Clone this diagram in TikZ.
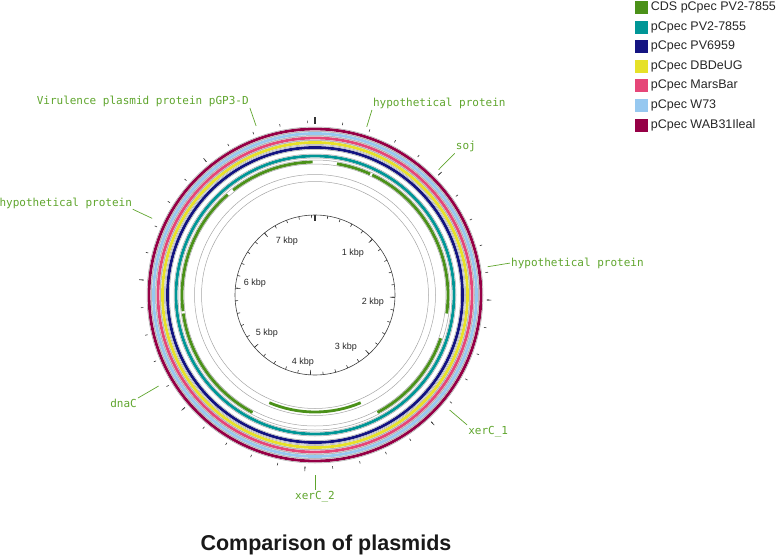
\documentclass[tikz,border=0pt]{standalone}
\usepackage{fontspec}
\setmainfont{Liberation Sans}
\newfontfamily\genefont{DejaVu Sans Mono}
\usetikzlibrary{positioning}

\definecolor{cdsgreen}{RGB}{75,145,25}
\definecolor{labelgreen}{RGB}{95,165,45}
\definecolor{pvteal}{RGB}{0,150,150}
\definecolor{pvnavy}{RGB}{20,20,130}
\definecolor{dbyellow}{RGB}{230,225,40}
\definecolor{mbpink}{RGB}{230,70,120}
\definecolor{wlblue}{RGB}{150,200,240}
\definecolor{wabred}{RGB}{150,0,70}

\tikzset{
  ringedge/.style={draw=gray!70, line width=0.5pt},
  tickmark/.style={draw=black!80, line width=0.6pt},
  geneline/.style={draw=labelgreen, line width=0.7pt},
  genelbl/.style={text=labelgreen, font=\genefont\fontsize{11}{13}\selectfont, inner sep=1pt},
  kbplbl/.style={text=black!85, font=\fontsize{9}{11}\selectfont, inner sep=0pt},
  keybox/.style={minimum size=13pt, inner sep=0pt},
  keytext/.style={text=black!85, font=\fontsize{12.5}{14}\selectfont, inner sep=0pt, anchor=west},
}

\begin{document}
\begin{tikzpicture}[x=1pt, y=-1pt]
\useasboundingbox (0,0) rectangle (777,557);

\begin{scope}[shift={(315,295)}]
% blast rings, outside in
\foreach \r/\c in {166/wabred, 161.5/wlblue, 157/mbpink, 152.5/dbyellow, 147.5/pvnavy, 139/pvteal}{
  \draw[\c, line width=2.8pt] (0,0) circle (\r);
  \draw[ringedge] (0,0) circle ({\r+2}) (0,0) circle ({\r-2});
}
% CDS, both strands
\draw[ringedge] (0,0) circle (135) (0,0) circle (131);
\draw[ringedge] (0,0) circle (120.5) (0,0) circle (113.5);
\foreach \s/\e in {322/359, 9.5/24.5, 25.5/62, 62/98, 109/152, 208/262, 263/319}
  \draw[cdsgreen, line width=2.8pt] ({\s-90}:133) arc[start angle={\s-90}, end angle={\e-90}, radius=133];
\draw[cdsgreen, line width=2.8pt] ({157-90}:117) arc[start angle={157-90}, end angle={203-90}, radius=117];

% outer ticks
\foreach \i in {0,...,39}{
  \pgfmathsetmacro{\a}{\i*9.1661-90}
  \draw[tickmark] (\a:172) -- (\a:174.5);
  \draw[tickmark] (\a:80) -- (\a:77);
}
\foreach \i in {5,10,...,35}{
  \pgfmathsetmacro{\a}{\i*9.1661-90}
  \draw[tickmark] (\a:172) -- (\a:176.5);
  \draw[tickmark] (\a:80) -- (\a:75);
}
\draw[tickmark, line width=1.4pt] (-90:171) -- (-90:178);
\draw[tickmark, line width=1.4pt] (-90:80) -- (-90:74);

% ruler
\draw[draw=black!75, line width=0.6pt] (0,0) circle (80);
\node[kbplbl] (kb1) at (38,-42) {1 kbp};
\node[kbplbl] (kb2) at (58,7) {2 kbp};
\node[kbplbl] (kb3) at (31,52) {3 kbp};
\node[kbplbl] (kb4) at (-12,67) {4 kbp};
\node[kbplbl] (kb5) at (-48,38) {5 kbp};
\node[kbplbl] (kb6) at (-60,-12) {6 kbp};
\node[kbplbl] (kb7) at (-28,-54) {7 kbp};

% gene labels
\coordinate (g1) at ({340.8-90}:179);
\node[genelbl, anchor=south east] (l1) at ({340.8-90}:198) {Virulence plasmid protein pGP3-D};
\draw[geneline] (g1) -- (l1.south east);
\coordinate (g2) at ({17.1-90}:176);
\node[genelbl, anchor=south west] (l2) at ({17.1-90}:193.6) {hypothetical protein};
\draw[geneline] (g2) -- (l2.south west);
\coordinate (g3) at ({44.6-90}:176);
\node[genelbl, anchor=south west] (l3) at ({44.6-90}:199) {soj};
\draw[geneline] (g3) -- (l3.south west);
\coordinate (g4) at ({80.7-90}:175);
\node[genelbl, anchor=west] (l4) at ({80.7-90}:197.6) {hypothetical protein};
\draw[geneline] (g4) -- (l4.west);
\coordinate (g5) at ({130.5-90}:177);
\node[genelbl, anchor=north west] (l5) at ({130.5-90}:200) {xerC\_1};
\draw[geneline] (g5) -- (l5.north west);
\coordinate (g6) at ({180-90}:180);
\node[genelbl, anchor=north] (l6) at ({180-90}:195) {xerC\_2};
\draw[geneline] (g6) -- (l6.north);
\coordinate (g7) at ({239.8-90}:181);
\node[genelbl, anchor=north east] (l7) at ({239.8-90}:204.8) {dnaC};
\draw[geneline] (g7) -- (l7.north east);
\coordinate (g8) at ({295.2-90}:180);
\node[genelbl, anchor=south east, inner sep=0.5pt] (l8) at ({295.2-90}:201.5) {hypothetical protein};
\draw[geneline] (g8) -- (l8.south east);
\end{scope}

% legend
\node[keybox, fill=cdsgreen] (k1) at (641,7.5) {};
\node[keybox, fill=pvteal, below=6.2pt of k1] (k2) {};
\node[keybox, fill=pvnavy, below=6.2pt of k2] (k3) {};
\node[keybox, fill=dbyellow, below=6.2pt of k3] (k4) {};
\node[keybox, fill=mbpink, below=6.2pt of k4] (k5) {};
\node[keybox, fill=wlblue, below=6.2pt of k5] (k6) {};
\node[keybox, fill=wabred, below=6.2pt of k6] (k7) {};
\node[keytext, right=3pt of k1] (t1) {CDS pCpec PV2-7855};
\node[keytext, right=3pt of k2] (t2) {pCpec PV2-7855};
\node[keytext, right=3pt of k3] (t3) {pCpec PV6959};
\node[keytext, right=3pt of k4] (t4) {pCpec DBDeUG};
\node[keytext, right=3pt of k5] (t5) {pCpec MarsBar};
\node[keytext, right=3pt of k6] (t6) {pCpec W73};
\node[keytext, right=3pt of k7] (t7) {pCpec WAB31Ileal};

\node[text=black!90, font=\bfseries\fontsize{21.5}{24}\selectfont] (title) at (326,545) {Comparison of plasmids};
\end{tikzpicture}
\end{document}
